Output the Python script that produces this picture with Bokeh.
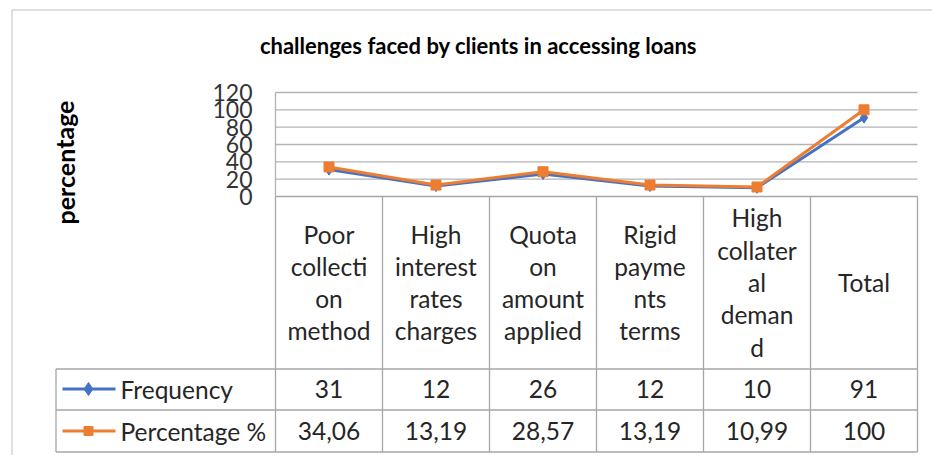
from bokeh.plotting import figure
from bokeh.models import Range1d
from bokeh.embed import file_html
from bokeh.resources import INLINE
from bokeh.core.properties import value

# ---- data ----
categories = ["Poor collection method", "High interest rates charges", "Quota on amount applied",
              "Rigid payments terms", "High collateral demand", "Total"]
category_lines = [["Poor", "collecti", "on", "method"],
                  ["High", "interest", "rates", "charges"],
                  ["Quota", "on", "amount", "applied"],
                  ["Rigid", "payme", "nts", "terms"],
                  ["High", "collater", "al", "deman", "d"],
                  ["Total"]]
frequency = [31, 12, 26, 12, 10, 91]
percentage = [34.06, 13.19, 28.57, 13.19, 10.99, 100]
y_ticks = [0, 20, 40, 60, 80, 100, 120]
series_names = ["Frequency", "Percentage %"]
title_text = "challenges faced by clients in accessing loans"
y_title = "percentage"

# ---- layout constants (page pixels) ----
X_ORIGIN = 275.0      # left edge of plot area / first category column
COL_W = 107.0         # px per category column
Y_ORIGIN = 196.0      # page y of value 0
PX_PER_UNIT = 104.0 / 120.0
W, H = 932, 455
PAGE_OFF = 0


def dx(px):
    return (px - X_ORIGIN) / COL_W


def dy(py):
    return (Y_ORIGIN - py) / PX_PER_UNIT


BLUE = "#4472C4"
ORANGE = "#ED7D31"
GRID = "#b3b3b3"
TABLE = "#a6a6a6"
TXT = "#262626"
FONT = value("Lato")
TFS = "24.5px"

p = figure(width=W, height=H, output_backend="svg", toolbar_location=None,
           x_range=Range1d(dx(PAGE_OFF), dx(PAGE_OFF + W)),
           y_range=Range1d(dy(PAGE_OFF + H), dy(PAGE_OFF)),
           x_axis_location=None, y_axis_location=None, min_border=0)
p.grid.visible = False
p.outline_line_color = None
p.background_fill_color = "white"
p.border_fill_color = "white"

n = len(categories)
xs = [i + 0.5 for i in range(n)]

# outer chart border
p.segment(x0=[dx(11.5), dx(11.5)], y0=[dy(9.5), dy(9.5)], x1=[dx(940), dx(11.5)], y1=[dy(9.5), dy(470)],
          line_color="#c0c0c0", line_width=1)

# title
p.text(x=[dx(478)], y=[dy(45)], text=[title_text], text_font=FONT, text_font_style="bold",
       text_font_size="22px", text_align="center", text_baseline="middle", text_color="#000000")
# y title
p.text(x=[dx(64)], y=[dy(162)], text=[y_title], text_font=FONT, text_font_style="bold",
       text_font_size="25px", text_align="center", text_baseline="middle", angle=1.5708,
       text_color="#000000")

# gridlines
gt = [t for t in y_ticks if t > 0]
p.segment(x0=[0] * len(gt), x1=[n] * len(gt), y0=gt, y1=gt, line_color=GRID, line_width=1.3)
# plot-area left edge
p.segment(x0=[0], x1=[0], y0=[0], y1=[max(y_ticks)], line_color=GRID, line_width=1.3)

# y tick labels
p.text(x=[dx(252)] * len(y_ticks), y=y_ticks, text=[str(t) for t in y_ticks], text_font=FONT,
       text_font_size="23px", text_align="right", text_baseline="middle", text_color="#333333")

# data table lines
row_tops = [368.5, 409.5, 451.5]
p.segment(x0=[0], x1=[n], y0=[0], y1=[0], line_color=TABLE, line_width=1.3)
p.segment(x0=[dx(55.5)] * 3, x1=[n] * 3, y0=[dy(r) for r in row_tops], y1=[dy(r) for r in row_tops],
          line_color=TABLE, line_width=1.3)
p.segment(x0=list(range(n + 1)), x1=list(range(n + 1)), y0=[0] * (n + 1), y1=[dy(451.5)] * (n + 1),
          line_color=TABLE, line_width=1.3)
p.segment(x0=[dx(55.5)], x1=[dx(55.5)], y0=[dy(368.5)], y1=[dy(451.5)], line_color=TABLE, line_width=1.3)

# header category texts
LINE_H = 32.3
HEAD_C = 282.0
hx, hy, ht = [], [], []
for i, lines in enumerate(category_lines):
    k = len(lines)
    for j, s in enumerate(lines):
        hx.append(i + 0.5)
        hy.append(dy(HEAD_C + (j - (k - 1) / 2) * LINE_H))
        ht.append(s)
p.text(x=hx, y=hy, text=ht, text_font=FONT, text_font_size=TFS, text_align="center",
       text_baseline="middle", text_color=TXT)


def fmt(v):
    if float(v).is_integer():
        return str(int(v))
    return f"{v:.2f}".replace(".", ",")


row_c = [388.5, 430.5]
for series, rc in zip([frequency, percentage], row_c):
    p.text(x=xs, y=[dy(rc)] * n, text=[fmt(v) for v in series], text_font=FONT, text_font_size=TFS,
           text_align="center", text_baseline="middle", text_color=TXT)

# legend keys
p.segment(x0=[dx(62)], x1=[dx(115)], y0=[dy(row_c[0])], y1=[dy(row_c[0])], line_color=BLUE, line_width=3)
p.scatter(x=[dx(88)], y=[dy(row_c[0])], marker="diamond", size=13, fill_color=BLUE, line_color=BLUE)
p.segment(x0=[dx(62)], x1=[dx(115)], y0=[dy(row_c[1])], y1=[dy(row_c[1])], line_color=ORANGE, line_width=3)
p.scatter(x=[dx(88)], y=[dy(row_c[1])], marker="square", size=9, fill_color=ORANGE, line_color=ORANGE)
p.text(x=[dx(120)] * 2, y=[dy(r) for r in row_c], text=series_names, text_font=FONT, text_font_size=TFS,
       text_align="left", text_baseline="middle", text_color=TXT)

# series lines
p.line(x=xs, y=frequency, line_color=BLUE, line_width=3)
p.scatter(x=xs, y=frequency, marker="diamond", size=11, fill_color=BLUE, line_color=BLUE)
p.line(x=xs, y=percentage, line_color=ORANGE, line_width=3)
p.scatter(x=xs, y=percentage, marker="square", size=10, fill_color=ORANGE, line_color=ORANGE)

open("out.html", "w").write(file_html(p, INLINE))
